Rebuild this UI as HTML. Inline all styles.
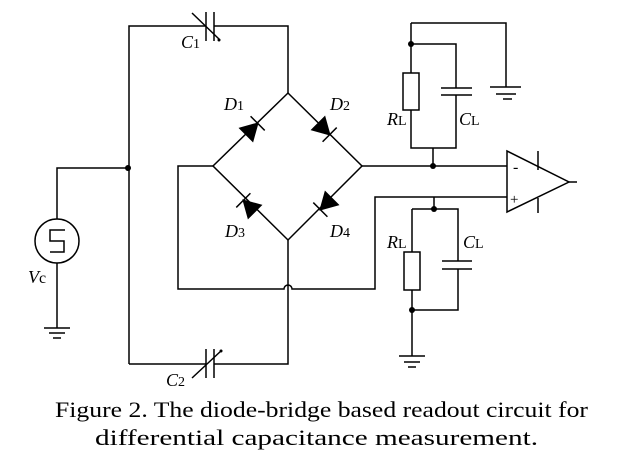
<!DOCTYPE html>
<html><head><meta charset="utf-8"><style>
html,body{margin:0;padding:0;background:#fff;}
svg{display:block;}
text{font-family:"Liberation Serif","Times New Roman",serif;fill:#000;}
</style></head><body>
<svg width="634" height="475" viewBox="0 0 634 475" xmlns="http://www.w3.org/2000/svg">
<g stroke="#000" stroke-width="1.5" fill="none">
<path d="M129,364 V26 H206 M214,26 H288 V93"/>
<path d="M206,12 V41 M214,12 V41"/>
<path d="M192,13 L220,40"/>
<path d="M129,168 H57 V219 M57,263 V328"/>
<circle cx="57" cy="241" r="22"/>
<path d="M65,230 H50 V241 H64 V252 H50"/>
<path d="M44,328 H70 M49,333 H65 M53,338 H61"/>
<path d="M288,93 L213,166 L288,240 L362,166 Z"/>
<path d="M288,240 V364 H214 M206,364 H129"/>
<path d="M206,349 V378 M214,349 V378"/>
<path d="M192,378 L222,350"/>
<path d="M213,166 H178 V289 H284 A4,4 0 0 1 292,289 H375 V197 H507"/>
<path d="M362,166 H507"/>
<path d="M507,151 L507,212 L569,182 Z"/>
<path d="M569,182 H577 M538,151 V170 M538,198 V213"/>
<path d="M411,23 H506 V87 M411,23 V73 M411,110 V148 H456 V95 M456,88 V44 H411"/>
<rect x="403" y="73" width="16" height="37"/>
<path d="M441,88 H472 M441,95 H472"/>
<path d="M490,87 H521 M496,94 H516 M503,99 H512"/>
<path d="M433,148 V166"/>
<path d="M434,197 V209 M412,209 H458 V261 M458,269 V310 H412 M412,209 V252 M412,290 V356"/>
<rect x="404" y="252" width="16" height="38"/>
<path d="M442,261 H472 M442,269 H472"/>
<path d="M399,356 H425 M404,362 H420 M408,367 H416"/>
</g>
<g fill="#000">
<circle cx="128" cy="168" r="3"/>
<circle cx="411" cy="44" r="3"/>
<circle cx="433" cy="166" r="3"/>
<circle cx="434" cy="209" r="3"/>
<circle cx="412" cy="310" r="3"/>
<circle cx="219" cy="40" r="1.5"/>
<circle cx="221" cy="351" r="1.5"/>
</g>
<g fill="#000" stroke="#000" stroke-width="1.5">
<g transform="translate(252,129) rotate(-45)"><path d="M-8,-9 L-8,9 L8,0 Z"/><path d="M8,-10 V10"/></g>
<g transform="translate(324,129) rotate(45)"><path d="M-8,-9 L-8,9 L8,0 Z"/><path d="M8,-10 V10"/></g>
<g transform="translate(249,206) rotate(-135)"><path d="M-8,-9 L-8,9 L8,0 Z"/><path d="M8,-10 V10"/></g>
<g transform="translate(326,204) rotate(135)"><path d="M-8,-9 L-8,9 L8,0 Z"/><path d="M8,-10 V10"/></g>
</g>
<g font-size="18">
<text x="181" y="48"><tspan font-style="italic">C</tspan><tspan font-size="14">1</tspan></text>
<text x="224" y="110"><tspan font-style="italic">D</tspan><tspan font-size="14">1</tspan></text>
<text x="330" y="110"><tspan font-style="italic">D</tspan><tspan font-size="14">2</tspan></text>
<text x="225" y="237"><tspan font-style="italic">D</tspan><tspan font-size="14">3</tspan></text>
<text x="330" y="237"><tspan font-style="italic">D</tspan><tspan font-size="14">4</tspan></text>
<text x="387" y="125"><tspan font-style="italic">R</tspan><tspan font-size="14">L</tspan></text>
<text x="459" y="125"><tspan font-style="italic">C</tspan><tspan font-size="14">L</tspan></text>
<text x="387" y="248"><tspan font-style="italic">R</tspan><tspan font-size="14">L</tspan></text>
<text x="463" y="248"><tspan font-style="italic">C</tspan><tspan font-size="14">L</tspan></text>
<text x="28" y="283"><tspan font-style="italic">V</tspan><tspan font-size="16">c</tspan></text>
<text x="166" y="386"><tspan font-style="italic">C</tspan><tspan font-size="14">2</tspan></text>
</g>
<text x="513" y="172" font-size="16">-</text>
<text x="510" y="204" font-size="15">+</text>
<text x="55" y="417" font-size="22" textLength="533" lengthAdjust="spacingAndGlyphs">Figure 2. The diode-bridge based readout circuit for</text>
<text x="95" y="445" font-size="22" textLength="443" lengthAdjust="spacingAndGlyphs">differential capacitance measurement.</text>
</svg>
</body></html>
